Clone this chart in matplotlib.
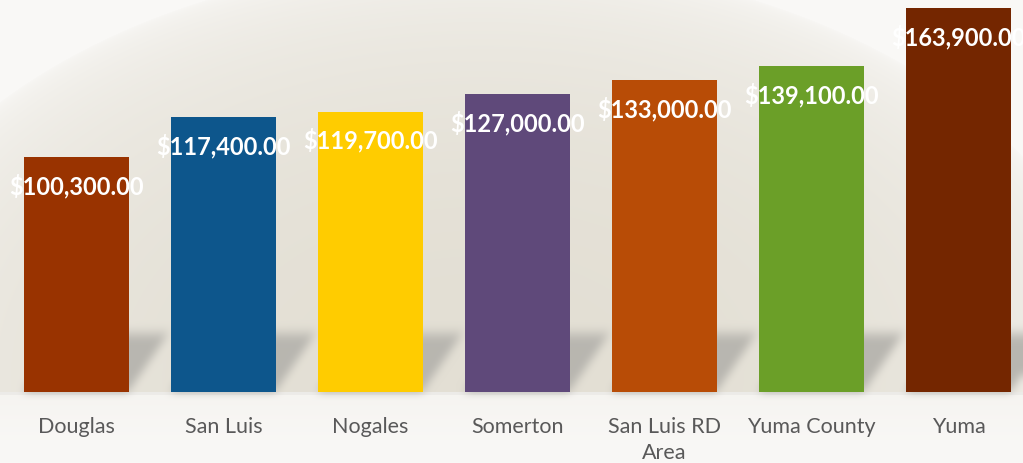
import numpy as np
import matplotlib
matplotlib.use("Agg")
import matplotlib.pyplot as plt

# ---- data ----
categories = ["Douglas", "San Luis", "Nogales", "Somerton", "San Luis RD\nArea", "Yuma County", "Yuma"]
values = [100300, 117400, 119700, 127000, 133000, 139100, 163900]
bar_colors = ["#993300", "#0D568C", "#FFCC00", "#5F497A", "#B84C06", "#6B9F28", "#742600"]

W, H, DPI = 1023, 463, 100
fig = plt.figure(figsize=(W / DPI, H / DPI), dpi=DPI)

# main axes
ax_bottom_px = 71
ax = fig.add_axes([0, ax_bottom_px / H, 1, (H - ax_bottom_px) / H])
ax.set_facecolor("none")
x = np.arange(len(categories))
ax.set_xlim(-76.5 / 147, (W - 76.5) / 147)
ax.set_ylim(0, 167300)
bars = ax.bar(x, values, width=0.714, color=bar_colors, zorder=3)
for s in ax.spines.values():
    s.set_visible(False)
ax.set_yticks([])
ax.set_xticks(x)
ax.set_xticklabels(categories, fontsize=15.5, color="#595959", family=["Lato", "DejaVu Sans"],
                   linespacing=1.35, va="top")
ax.tick_params(axis="x", length=0, pad=18)

for xi, v in zip(x, values):
    ax.annotate(f"${v:,.2f}", xy=(xi, v), xytext=(0, -29), textcoords="offset pixels",
                ha="center", va="center", color="white", fontsize=17, fontweight="bold",
                family=["Lato", "DejaVu Sans"], zorder=5, annotation_clip=False)

# ---- background image in display pixel coords (origin lower) ----
Y, X = np.mgrid[0:H, 0:W].astype(float)
yt = H - Y  # top-down
light = np.array([249, 248, 246]) / 255.0
beige = np.array([227, 223, 212]) / 255.0
d2 = ((X - 480) / 640) ** 2 + ((yt - 380) / 420) ** 2
t = np.clip(1 - d2, 0, 1) ** 0.45
below = yt > 392
tb = np.clip(0.3 * (1 - (yt - 392) / 71), 0, 1) ** 1.5
t = np.where(below, tb, t)
img = light[None, None, :] + (beige - light)[None, None, :] * t[..., None]

# perspective shadows derived from bar geometry (cast up and to the right)
mask = np.zeros((H, W))
base_disp = ax.transData.transform((0, 0))[1]
sh_h = 64.0
for b in bars:
    (x0, _), (x1, _) = ax.transData.transform([(b.get_x(), 0), (b.get_x() + b.get_width(), 0)])
    for yy in range(int(base_disp), int(base_disp + sh_h)):
        s = 44 * (yy - base_disp) / sh_h
        a = 1.0 if yy < base_disp + sh_h - 12 else (base_disp + sh_h - yy) / 12
        lo, hi = int(x0 + s), int(x1 + s)
        lo_c, hi_c = max(lo, 0), max(min(hi, W), 0)
        mask[yy, lo_c:hi_c] = np.maximum(mask[yy, lo_c:hi_c], a)


def box_blur(a, r):
    k = 2 * r + 1
    p = np.pad(a, ((r, r), (r, r)), mode="edge")
    c = np.cumsum(np.cumsum(p, axis=0), axis=1)
    c = np.pad(c, ((1, 0), (1, 0)))
    return (c[k:, k:] - c[:-k, k:] - c[k:, :-k] + c[:-k, :-k]) / (k * k)


mask = box_blur(box_blur(mask, 5), 4)
shadow_col = np.array([182, 180, 174]) / 255.0
img = img * (1 - mask[..., None] * 0.95) + shadow_col[None, None, :] * (mask[..., None] * 0.95)
# faint line just under the bars
line = (Y < base_disp) & (Y > base_disp - 4)
img[line] = img[line] * 0.965

ax_bg = fig.add_axes([0, 0, 1, 1], zorder=-1)
ax_bg.imshow(np.clip(img, 0, 1), origin="lower", extent=(0, W, 0, H), aspect="auto",
             interpolation="bilinear")
ax_bg.set_axis_off()

fig.savefig("out.png", dpi=DPI)
